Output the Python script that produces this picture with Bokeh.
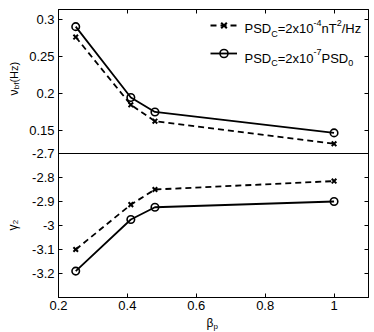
import math
from bokeh.plotting import figure
from bokeh.layouts import row, column
from bokeh.models import (Range1d, FixedTicker, CustomJSTickFormatter, Span, Label,
                          Legend, LegendItem, LinearAxis)
from bokeh.embed import file_html
from bokeh.resources import INLINE

# ---------------- data ----------------
beta_p = [0.25, 0.41, 0.48, 1.0]
nu_bf_fixed = [0.276, 0.185, 0.163, 0.1326]      # PSD_C = 2x10^-4 nT^2/Hz (dashed, x)
nu_bf_rel = [0.290, 0.1948, 0.1754, 0.1473]      # PSD_C = 2x10^-7 PSD_0 (solid, o)
gamma2_fixed = [-3.10, -2.913, -2.85, -2.815]
gamma2_rel = [-3.19, -2.975, -2.924, -2.90]

x_ticks = [0.2, 0.4, 0.6, 0.8, 1.0]
nu_ticks = [0.15, 0.2, 0.25, 0.3]
gamma_ticks = [-3.2, -3.1, -3.0, -2.9, -2.8, -2.7]

top_lo, top_hi = 0.1196, 0.313      # upper panel range
bot_lo, bot_hi = -3.3, -2.7         # lower panel range
x_lo, x_hi = 0.2, 1.1

FONT = "Liberation Sans"
STRIP_W = 26          # left strip holding the y labels
MAIN_BL, MAIN_BT, MAIN_BB, MAIN_BR = 31, 9, 16, 7
FRAME_W, FRAME_H = 310, 288
MAIN_H = MAIN_BT + FRAME_H + MAIN_BB
TOTAL_H = 332
MAIN_W = MAIN_BL + FRAME_W + MAIN_BR

# ---------------- main plot ----------------
p = figure(frame_width=FRAME_W, frame_height=FRAME_H,
           min_border_left=MAIN_BL, min_border_right=MAIN_BR,
           min_border_top=MAIN_BT, min_border_bottom=MAIN_BB,
           x_range=Range1d(x_lo, x_hi),
           y_range=Range1d(bot_lo, bot_hi + (bot_hi - bot_lo)),
           output_backend="svg", toolbar_location=None)
p.extra_y_ranges = {"top": Range1d(top_lo - (top_hi - top_lo), top_hi)}
p.grid.visible = False
p.outline_line_color = "black"
p.outline_line_width = 1
p.background_fill_color = "white"
p.border_fill_color = "white"

p.add_layout(Span(location=bot_hi, dimension="width", line_color="black", line_width=1))

CIRC, XS = 7.5, 6.5
l1 = p.line(beta_p, nu_bf_fixed, y_range_name="top", color="black", line_width=1.8, line_dash="6 4")
s1 = p.scatter(beta_p, nu_bf_fixed, y_range_name="top", marker="x", size=XS, line_width=2, color="black")
l2 = p.line(beta_p, nu_bf_rel, y_range_name="top", color="black", line_width=1.8)
s2 = p.scatter(beta_p, nu_bf_rel, y_range_name="top", marker="circle", size=CIRC, line_width=1.6,
               line_color="black", fill_color=None)

p.line(beta_p, gamma2_fixed, color="black", line_width=1.8, line_dash="6 4")
p.scatter(beta_p, gamma2_fixed, marker="x", size=XS, line_width=2, color="black")
p.line(beta_p, gamma2_rel, color="black", line_width=1.8)
p.scatter(beta_p, gamma2_rel, marker="circle", size=CIRC, line_width=1.6, line_color="black", fill_color=None)

top_span = top_hi - top_lo
bot_span = bot_hi - bot_lo
mapped_nu = [bot_hi + (v - top_lo) / top_span * bot_span for v in nu_ticks]
y_tick_pos = gamma_ticks + mapped_nu

yax = p.yaxis[0]
yax.ticker = FixedTicker(ticks=y_tick_pos)
yax.formatter = CustomJSTickFormatter(
    args=dict(top_lo=top_lo, top_span=top_span, bot_hi=bot_hi, bot_span=bot_span),
    code="""
    if (tick > bot_hi + 1e-6) {
        const v = top_lo + (tick - bot_hi) / bot_span * top_span;
        return String(Math.round(v * 100) / 100);
    }
    return String(Math.round(tick * 10) / 10);
    """)
xax = p.xaxis[0]
xax.ticker = FixedTicker(ticks=x_ticks)
xax.formatter = CustomJSTickFormatter(code="return String(Math.round(tick*100)/100);")

rax = LinearAxis(ticker=FixedTicker(ticks=y_tick_pos),
                 formatter=CustomJSTickFormatter(code="return '';"))
tax = LinearAxis(ticker=FixedTicker(ticks=x_ticks),
                 formatter=CustomJSTickFormatter(code="return '';"))
p.add_layout(rax, "right")
p.add_layout(tax, "above")

for ax in (xax, yax, rax, tax):
    ax.major_tick_in = 4
    ax.major_tick_out = 0
    ax.minor_tick_line_color = None
    ax.axis_line_color = "black"
    ax.major_tick_line_color = "black"
    ax.major_label_text_font = FONT
    ax.major_label_text_font_size = "13px"
    ax.major_label_text_color = "black"
yax.major_label_standoff = 4
xax.major_label_standoff = 3
rax.major_label_standoff = 0
tax.major_label_standoff = 0

legend = Legend(items=[LegendItem(label=" ", renderers=[l1, s1]),
                       LegendItem(label=" ", renderers=[l2, s2])],
                location=(152, 234), glyph_width=27, glyph_height=20, label_height=20,
                label_width=1, label_standoff=0, spacing=8, padding=0, margin=0,
                border_line_color=None, background_fill_alpha=0,
                label_text_font_size="1px")
p.add_layout(legend)


def strip(w, h):
    f = figure(width=w, height=h, min_border=0, x_range=Range1d(0, 1), y_range=Range1d(0, 1),
               x_axis_location=None, y_axis_location=None, output_backend="svg",
               toolbar_location=None)
    f.outline_line_color = None
    f.grid.visible = False
    f.background_fill_color = "white"
    f.border_fill_color = "white"
    return f


left = strip(STRIP_W, TOTAL_H)
bottom = strip(MAIN_W, TOTAL_H - MAIN_H)

# ---------------- rich texts ----------------
W = {'P': 667, 'S': 667, 'D': 722, 'C': 722, '=': 584, '2': 556, 'x': 500, '1': 556, '0': 556,
     '-': 333, '4': 556, '7': 556, 'n': 556, 'T': 611, '/': 278, 'H': 722, 'z': 500, ' ': 278,
     '(': 333, ')': 333, 'b': 556, 'f': 278, 'ν': 520, 'γ': 520, 'β': 573, 'p': 556}


def width(txt, size):
    return sum(W.get(c, 556) for c in txt) * size / 1000.0


def rich(fig, fl, fb, pieces, x0, y0, rotate=False):
    """pieces: (text, px, raise); (x0, y0) page coords of baseline start; fl/fb frame left/bottom."""
    pos = 0.0
    for txt, size, dy in pieces:
        if rotate:
            sx, sy, ang = x0 - fl - dy, fb - (y0 - pos), math.pi / 2
        else:
            sx, sy, ang = x0 - fl + pos, fb - y0 + dy, 0
        fig.add_layout(Label(x=sx, y=sy, x_units="screen", y_units="screen", text=txt,
                             angle=ang, text_font=FONT, text_font_size=f"{size}px",
                             text_color="black", text_align="left", text_baseline="alphabetic"))
        pos += width(txt, size)


MFL = STRIP_W + MAIN_BL           # main frame left (page px); the bottom strip's frame aligns to it
MFB = MAIN_BT + FRAME_H           # main frame bottom (page px)
MAIN, SMALL = 13, 9
rich(p, MFL, MFB, [("PSD", MAIN, 0), ("C", SMALL, -5), ("=2x10", MAIN, 0), ("-4", SMALL, 6),
                   ("nT", MAIN, 0), ("2", SMALL, 6), ("/Hz", MAIN, 0)], 243, 28)
rich(p, MFL, MFB, [("PSD", MAIN, 0), ("C", SMALL, -5), ("=2x10", MAIN, 0), ("-7", SMALL, 6),
                   ("PSD", MAIN, 0), ("0", SMALL, -5)], 243, 57.5)

rich(left, 0, TOTAL_H, [("ν", 12, 0), ("bf", 8, -3), (" (Hz)", 11, 0)], 13, 95, rotate=True)
rich(left, 0, TOTAL_H, [("γ", 12, 0), ("2", 8, -2.5)], 12.5, 230, rotate=True)
rich(bottom, MFL, TOTAL_H, [("β", 12, 0), ("p", 8, -3.5)], 205, 322.5)

layout = row(left, column(p, bottom, spacing=0), spacing=0)
open("out.html", "w").write(file_html(layout, INLINE))
